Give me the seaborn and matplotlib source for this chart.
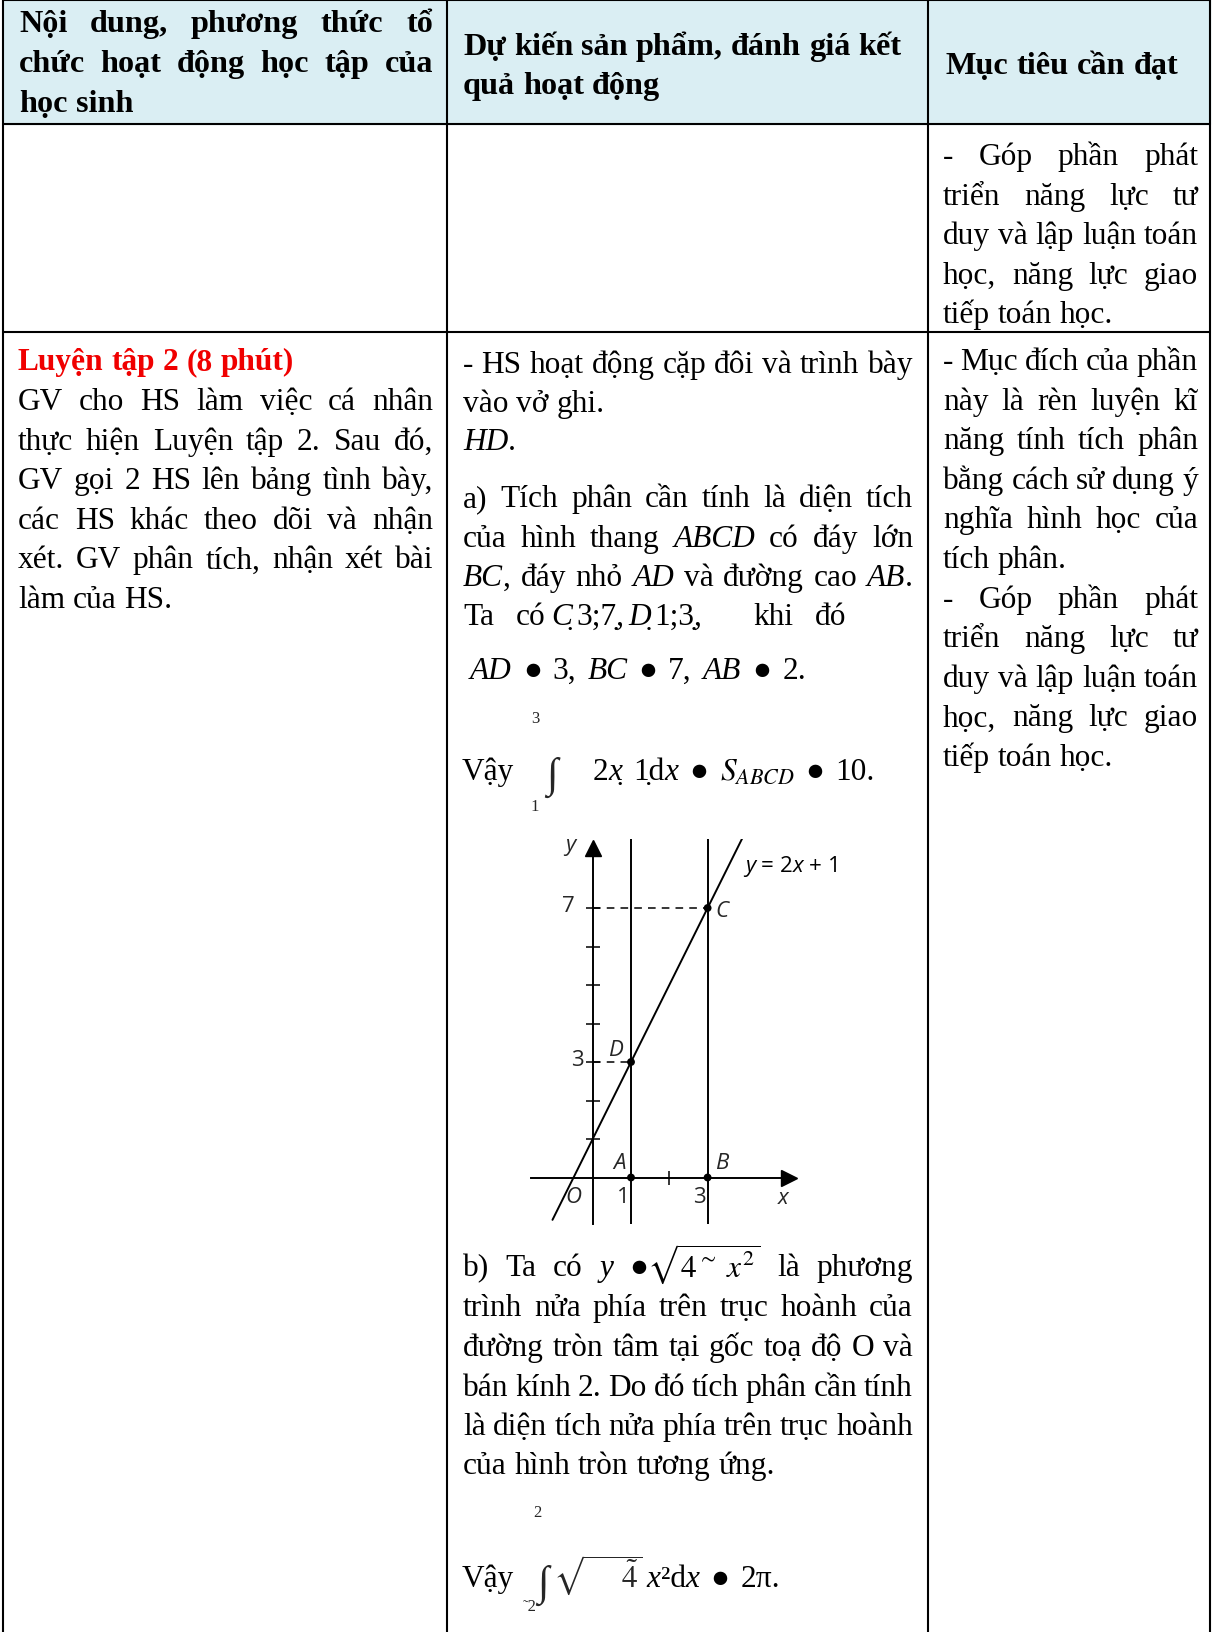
import matplotlib
matplotlib.use("Agg")
import matplotlib.pyplot as plt
import seaborn as sns
import pandas as pd

# --- data -------------------------------------------------------------
header_col1 = ["Nội dung, phương thức tổ", "chức hoạt động học tập của", "học sinh"]
header_col2 = ["Dự kiến sản phẩm, đánh giá kết", "quả hoạt động"]
header_col3 = ["Mục tiêu cần đạt"]

muc_tieu_1 = ["- Góp phần phát", "triển năng lực tư", "duy và lập luận toán",
              "học, năng lực giao", "tiếp toán học."]
muc_tieu_2 = ["- Mục đích của phần", "này là rèn luyện kĩ", "năng tính tích phân",
              "bằng cách sử dụng ý", "nghĩa hình học của", "tích phân."] + muc_tieu_1

title_lt2 = "Luyện tập 2 (8 phút)"
noi_dung = ["GV cho HS làm việc cá nhân", "thực hiện Luyện tập 2. Sau đó,",
            "GV gọi 2 HS lên bảng tình bày,", "các HS khác theo dõi và nhận",
            "xét. GV phân tích, nhận xét bài", "làm của HS."]

san_pham_a = ["- HS hoạt động cặp đôi và trình bày", "vào vở ghi.", "*HD*.",
              "a) Tích phân cần tính là diện tích", "của hình thang *ABCD* có đáy lớn",
              "*BC*, đáy nhỏ *AD* và đường cao *AB*."]
san_pham_b = ["b) Ta có *y* ●$\\sqrt{4^{\\sim}\\;x^{2}}$ là phương",
              "trình nửa phía trên trục hoành của", "đường tròn tâm tại gốc toạ độ O và",
              "bán kính 2. Do đó tích phân cần tính", "là diện tích nửa phía trên trục hoành",
              "của hình tròn tương ứng."]

# graph: y = 2x + 1, trapezoid ABCD
line_x = [-1.05, 3.9]
line_y = [-1.1, 8.8]
pts = pd.DataFrame({"x": [1, 3, 3, 1], "y": [0, 0, 7, 3], "name": ["A", "B", "C", "D"]})
vlines_x = [1, 3]
y_ticks = [1, 2, 3, 4, 5, 6, 7]
x_ticks = [2]

# --- page -------------------------------------------------------------
sns.set_theme(style="white")
plt.rcParams["font.family"] = ["Liberation Serif", "DejaVu Serif"]
plt.rcParams["mathtext.fontset"] = "stix"

W, H = 1214, 1633
fig = plt.figure(figsize=(W / 100, H / 100), dpi=100)
ax = fig.add_axes([0, 0, 1, 1])
ax.set_xlim(0, W)
ax.set_ylim(H, 0)
ax.axis("off")
renderer = fig.canvas.get_renderer()

BODY = 22.6
HEAD = 23.2


def draw_line(x0, y, line, x1=None, size=BODY, weight="normal", color="black",
              space=None, family=None):
    fam = family or ["Liberation Serif", "DejaVu Serif"]
    items = []
    for w in line.split(" "):
        segs = []
        for i, p in enumerate(w.split("*")):
            if not p:
                continue
            t = ax.text(0, y, p, fontsize=size, fontweight=weight, color=color,
                        fontstyle="italic" if i % 2 else "normal", family=fam,
                        va="baseline", ha="left")
            segs.append((t, t.get_window_extent(renderer).width))
        items.append(segs)
    widths = [sum(s[1] for s in segs) for segs in items]
    sp = size * 100 / 72 * 0.25 if space is None else space
    if x1 is not None and len(items) > 1:
        sp = (x1 - x0 - sum(widths)) / (len(items) - 1)
    x = x0
    for segs, wd in zip(items, widths):
        for t, w in segs:
            t.set_x(x)
            x += w
        x += sp
    return x - sp


# header background and grid
ax.axhspan(1, 125, xmin=3 / W, xmax=1210 / W, color="#DAEEF3", zorder=0)
for yy in [1, 125, 333]:
    ax.plot([3, 1210], [yy, yy], color="black", lw=1.5, zorder=3)
for xx in [3, 447, 928, 1210]:
    ax.plot([xx, xx], [1, H], color="black", lw=1.5, zorder=3)

# header text
for i, s in enumerate(header_col1):
    draw_line(19, 32 + i * 40, s, x1=433 if i < 2 else None, size=HEAD, weight="bold")
for i, s in enumerate(header_col2):
    draw_line(463, 55 + i * 39, s, size=HEAD, weight="bold")
draw_line(946, 74, header_col3[0], size=HEAD, weight="bold")

# column 3
for i, s in enumerate(muc_tieu_1):
    draw_line(943, 165 + i * 39.6, s, x1=1198 if i < len(muc_tieu_1) - 1 else None)
for i, s in enumerate(muc_tieu_2):
    last = s.endswith(".")
    draw_line(943, 370 + i * 39.6, s, x1=None if last else 1198)

# column 1
draw_line(18, 370, title_lt2, weight="bold", color="#F00000")
for i, s in enumerate(noi_dung):
    draw_line(18, 410 + i * 39.6, s, x1=433 if i < len(noi_dung) - 1 else None)

# column 2, part a
ys_a = [373, 412, 450, 507, 547, 586]
for s, yy in zip(san_pham_a, ys_a):
    just = not (s.startswith("vào") or s.startswith("*HD"))
    draw_line(463, yy, s, x1=913 if just else None)
draw_line(463, 625, "Ta có", space=22)
draw_line(551, 625, "*C\u0323* 3;7\u0323, *D\u0323* 1;3\u0323,", space=4)
draw_line(753, 625, "khi đó", space=22)
draw_line(470, 679, "*AD* ● 3, *BC* ● 7, *AB* ● 2.", space=11)

ax.text(535, 723, "3", fontsize=12, ha="center", va="baseline")
draw_line(462, 780, "Vậy")
ax.text(552, 787, "∫", fontsize=30, ha="center", va="baseline")
ax.text(535, 811, "1", fontsize=12, ha="center", va="baseline")
draw_line(593, 780, "2*x\u0323* 1\u0323d*x* ● $S_{ABCD}$ ● 10.", space=11)

# column 2, part b
ys_b = [1276, 1316, 1356, 1396, 1435, 1474]
for s, yy in zip(san_pham_b, ys_b):
    draw_line(463, yy, s, x1=None if s.endswith("ứng.") else 913)

ax.text(537, 1517, "2", fontsize=12, ha="center", va="baseline")
draw_line(462, 1587, "Vậy")
ax.text(543, 1595, "∫", fontsize=30, ha="center", va="baseline")
ax.text(530, 1611, "˜2", fontsize=12, ha="center", va="baseline")
rad = ax.text(553, 1587, r"$\sqrt{\quad\;\;\tilde{4}}$", fontsize=BODY, va="baseline")
rad_w = rad.get_window_extent(renderer).width
draw_line(553 + rad_w + 4, 1587, "*x*²d*x* ● 2π.", space=11)

# --- graph ------------------------------------------------------------
ox, oy, ux, uy = 592.7, 1178.5, 38.3, 38.5
gx0, gx1, gy0, gy1 = -1.6, 5.3, -1.2, 8.8
left = ox + gx0 * ux
gax = fig.add_axes([left / W, 1 - (oy - gy0 * uy) / H, (gx1 - gx0) * ux / W,
                    (gy1 - gy0) * uy / H])
gax.set_xlim(gx0, gx1)
gax.set_ylim(gy0, gy1)
gax.patch.set_alpha(0)

LW = 1.4
sns.lineplot(x=line_x, y=line_y, ax=gax, color="black", lw=LW)
for xv in vlines_x:
    gax.axvline(xv, color="black", lw=LW)
c = pts[pts.name == "C"].iloc[0]
d = pts[pts.name == "D"].iloc[0]
gax.plot([0, c.x], [c.y, c.y], color="black", lw=1.1, dashes=(5, 4))
gax.plot([0, d.x], [d.y, d.y], color="black", lw=1.1, dashes=(5, 4))
sns.scatterplot(data=pts, x="x", y="y", ax=gax, color="black", s=32, zorder=5,
                edgecolor="none")

x_end, y_end = 5.13, 8.56
for side in ["top", "right"]:
    gax.spines[side].set_visible(False)
gax.spines["left"].set_position(("data", 0))
gax.spines["bottom"].set_position(("data", 0))
gax.spines["left"].set_bounds(gy0, y_end)
gax.spines["bottom"].set_bounds(gx0, x_end)
for side in ["left", "bottom"]:
    gax.spines[side].set_color("black")
    gax.spines[side].set_linewidth(LW)
gax.plot(x_end, 0, marker=">", ms=11, color="black", clip_on=False)
gax.plot(0, y_end, marker="^", ms=11, color="black", clip_on=False)
gax.set_xticks(x_ticks)
gax.set_yticks(y_ticks)
gax.set_xticklabels([])
gax.set_yticklabels([])
gax.tick_params(direction="inout", length=10, width=1.1, color="black",
                bottom=True, left=True)
gax.set_xlabel("")
gax.set_ylabel("")

sans = ["Open Sans", "DejaVu Sans"]
GF = 16
offsets = {"A": (-8, 11), "B": (10, 11), "C": (10, -2), "D": (-11, 9)}
for _, r in pts.iterrows():
    gax.annotate(r["name"], (r.x, r.y), xytext=offsets[r["name"]],
                 textcoords="offset points", fontsize=GF, style="italic",
                 family=sans, ha="center", va="center")
lab = dict(fontsize=GF, family=sans, va="center", ha="center")
ax.text(570, 846, "y", style="italic", **lab)
ax.text(568, 907, "7", **lab)
ax.text(577, 1061, "3", **lab)
ax.text(573, 1198, "O", style="italic", **lab)
ax.text(623, 1198, "1", **lab)
ax.text(699, 1198, "3", **lab)
ax.text(783, 1199, "x", style="italic", **lab)
draw_line(745, 872, "*y* = 2*x* + 1", size=GF, family=sans, space=6)

fig.savefig("out.png", dpi=100)
